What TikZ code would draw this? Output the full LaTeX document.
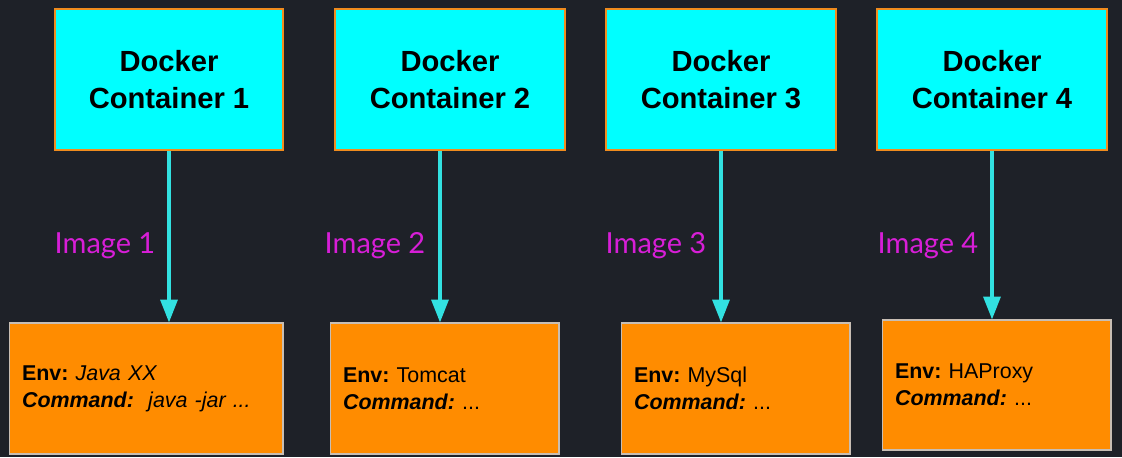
\documentclass[tikz,border=0pt]{standalone}
\usepackage{fontspec}
\setmainfont{Liberation Sans}
\newfontfamily\labelfont{Lato}
\usetikzlibrary{arrows.meta,positioning,calc}
\frenchspacing
\definecolor{bgdark}{RGB}{30,33,40}
\definecolor{boxcyan}{RGB}{0,255,255}
\definecolor{boxorange}{RGB}{255,140,0}
\definecolor{edgeorange}{RGB}{240,140,30}
\definecolor{edgegray}{RGB}{200,190,180}
\definecolor{arrowcyan}{RGB}{50,225,225}
\definecolor{imgmagenta}{RGB}{215,30,215}

\tikzset{
  container/.style={draw=edgeorange, line width=1.6pt, fill=boxcyan,
    minimum height=2.82cm, align=center, text=black,
    font=\fontsize{16.6}{20.6}\selectfont\bfseries},
  envbox/.style={draw=edgegray, line width=0.6pt, fill=boxorange,
    minimum height=2.62cm, align=left, inner xsep=0pt, text=black,
    font=\fontsize{12.2}{15.3}\selectfont},
  imglabel/.style={font=\labelfont\fontsize{16.5}{19}\selectfont,
    text=imgmagenta, anchor=base},
  pull/.style={draw=arrowcyan, line width=2pt,
    -{Triangle[length=13pt,width=9.6pt]}}
}

\begin{document}
\begin{tikzpicture}[x=0.02cm, y=-0.02cm]
  % Background
  \fill[bgdark] (0,0) rectangle (1122,457);

  % Containers
  \node[container, minimum width=4.56cm] (c1) at (169,79.5) {Docker\\Container 1};
  \node[container, minimum width=4.6cm] (c2) at (450,79.5) {Docker\\Container 2};
  \node[container, minimum width=4.6cm] (c3) at (721,79.5) {Docker\\Container 3};
  \node[container, minimum width=4.6cm] (c4) at (992,79.5) {Docker\\Container 4};

  % Env / command boxes
  \node[envbox, minimum width=5.48cm, text width=4.96cm] (e1) at (146,388.5)
    {\textbf{Env:} \textit{Java XX}\\\textbf{\textit{Command:}}\ \ \textit{java -jar ...}};
  \node[envbox, minimum width=4.58cm, text width=4.06cm] (e2) at (444.5,388.5)
    {\textbf{Env:} Tomcat\\\textbf{\textit{Command:}} ...};
  \node[envbox, minimum width=4.58cm, text width=4.06cm] (e3) at (735.5,388.5)
    {\textbf{Env:} MySql\\\textbf{\textit{Command:}} ...};
  \node[envbox, minimum width=4.58cm, text width=4.06cm, minimum height=2.6cm] (e4) at (996.5,385)
    {\textbf{Env:} HAProxy\\\textbf{\textit{Command:}} ...};

  % Image arrows
  \draw[pull] (c1.south) -- (c1.south |- e1.north);
  \draw[pull] ([xshift=-0.2cm]c2.south) -- ([xshift=-0.2cm]c2.south |- e2.north);
  \draw[pull] (c3.south) -- (c3.south |- e3.north);
  \draw[pull] (c4.south) -- (c4.south |- e4.north);

  % Image labels
  \node[imglabel] (img1) at (105,253) {Image 1};
  \node[imglabel] (img2) at (375,253) {Image 2};
  \node[imglabel] (img3) at (656,253) {Image 3};
  \node[imglabel] (img4) at (928,253) {Image 4};
\end{tikzpicture}
\end{document}
